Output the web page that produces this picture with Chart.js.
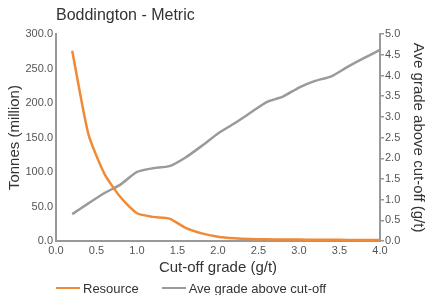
<!DOCTYPE html>
<html>
<head>
<meta charset="utf-8">
<title>Boddington - Metric</title>
<script src="https://cdn.jsdelivr.net/npm/chart.js@4/dist/chart.umd.min.js"></script>
<style>
  html, body { margin: 0; padding: 0; background: #fff; }
  #wrap { position: relative; width: 427px; height: 295px; font-family: "Liberation Sans", Arial, sans-serif; }
  #legend { position: absolute; left: 56px; top: 280px; height: 16px; display: flex; align-items: center; font-size: 13px; color: #333; }
  .item { display: flex; align-items: center; margin-right: 23px; }
  .swatch { width: 24px; height: 2.5px; margin-right: 3px; }
</style>
</head>
<body>
<div id="wrap">
  <canvas id="chartCanvas"></canvas>
  <div id="legend"></div>
</div>
<script>
// cut-off grade (g/t) for each point
const cutoffs = [0.2, 0.4, 0.6, 0.8, 1.0, 1.2, 1.4, 1.6, 1.8, 2.0,
                 2.2, 2.4, 2.6, 2.8, 3.0, 3.2, 3.4, 3.6, 3.8, 4.0];
// resource tonnes (million)
const resource = [276, 155, 97, 63, 40.3, 35, 32.5, 19, 11, 6.3,
                  4, 2.9, 2.5, 2.2, 2.0, 1.9, 1.7, 1.6, 1.5, 1.4];
// average grade above cut-off (g/t)
const aveGrade = [0.65, 0.91, 1.16, 1.37, 1.67, 1.76, 1.81, 2.02, 2.30, 2.60,
                  2.84, 3.10, 3.36, 3.49, 3.71, 3.87, 3.98, 4.21, 4.42, 4.62];

const seriesNames = ['Resource', 'Ave grade above cut-off'];
const seriesColors = ['#f08a36', '#9a9a9a'];

const AXIS = '#999';
const TICK = '#555';
const TEXT = '#333';

Chart.defaults.font.family = '"Liberation Sans", Arial, sans-serif';

function pairs(ys){ return cutoffs.map((x, i) => ({x, y: ys[i]})); }
const fmt1 = v => Number(v).toFixed(1);

// title starts at the plot's left edge
const titleToPlot = {
  id: 'titleToPlot',
  afterLayout(chart){ if(chart.titleBlock) chart.titleBlock.left = chart.chartArea.left; }
};

const chart = new Chart(document.getElementById('chartCanvas'), {
  type: 'line',
  data: {
    datasets: [
      {label: seriesNames[0], data: pairs(resource), yAxisID: 'y',
       borderColor: seriesColors[0], backgroundColor: seriesColors[0],
       borderWidth: 2.5, pointRadius: 0, tension: 0.2, fill: false},
      {label: seriesNames[1], data: pairs(aveGrade), yAxisID: 'y1',
       borderColor: seriesColors[1], backgroundColor: seriesColors[1],
       borderWidth: 2.5, pointRadius: 0, tension: 0.2, fill: false}
    ]
  },
  options: {
    responsive: true,
    maintainAspectRatio: false,
    animation: false,
    layout: {padding: {left: 0, right: 0, top: 0, bottom: 18}},
    plugins: {
      legend: {display: false},
      tooltip: {enabled: false},
      title: {display: true, text: 'Boddington - Metric', align: 'start', color: TEXT,
              font: {size: 16, weight: 'normal'}, padding: {top: 6, bottom: 9}}
    },
    scales: {
      x: {
        type: 'linear', min: 0, max: 4,
        ticks: {stepSize: 0.5, callback: fmt1, color: TICK, font: {size: 11}, padding: 3, maxRotation: 0},
        grid: {display: false, drawTicks: false},
        border: {display: true, color: AXIS, width: 2},
        title: {display: true, text: 'Cut-off grade (g/t)', color: TEXT, font: {size: 15}, padding: {top: 0, bottom: 0}},
        afterFit: s => { s.height = 36; }
      },
      y: {
        position: 'left', min: 0, max: 300,
        ticks: {stepSize: 50, callback: fmt1, color: TICK, font: {size: 11}, padding: 3},
        grid: {display: false, drawTicks: false},
        border: {display: true, color: AXIS, width: 2},
        title: {display: true, text: 'Tonnes (million)', color: TEXT, font: {size: 15}, padding: {top: 6, bottom: 0}},
        afterFit: s => { s.width = 56; }
      },
      y1: {
        position: 'right', min: 0, max: 5,
        ticks: {stepSize: 0.5, callback: fmt1, color: TICK, font: {size: 11}, padding: 1},
        grid: {display: true, drawOnChartArea: false, drawTicks: true, tickLength: 4, color: AXIS, lineWidth: 1.5},
        border: {display: true, color: AXIS, width: 2},
        title: {display: true, text: 'Ave grade above cut-off (g/t)', color: TEXT, font: {size: 15}, padding: {top: 0, bottom: 0}},
        afterFit: s => { s.width = 47; }
      }
    }
  },
  plugins: [titleToPlot]
});

// legend, line swatches like the original
const legend = document.getElementById('legend');
chart.data.datasets.forEach(ds => {
  const item = document.createElement('div');
  item.className = 'item';
  const sw = document.createElement('span');
  sw.className = 'swatch';
  sw.style.background = ds.borderColor;
  item.appendChild(sw);
  item.appendChild(document.createTextNode(ds.label));
  legend.appendChild(item);
});
</script>
</body>
</html>
